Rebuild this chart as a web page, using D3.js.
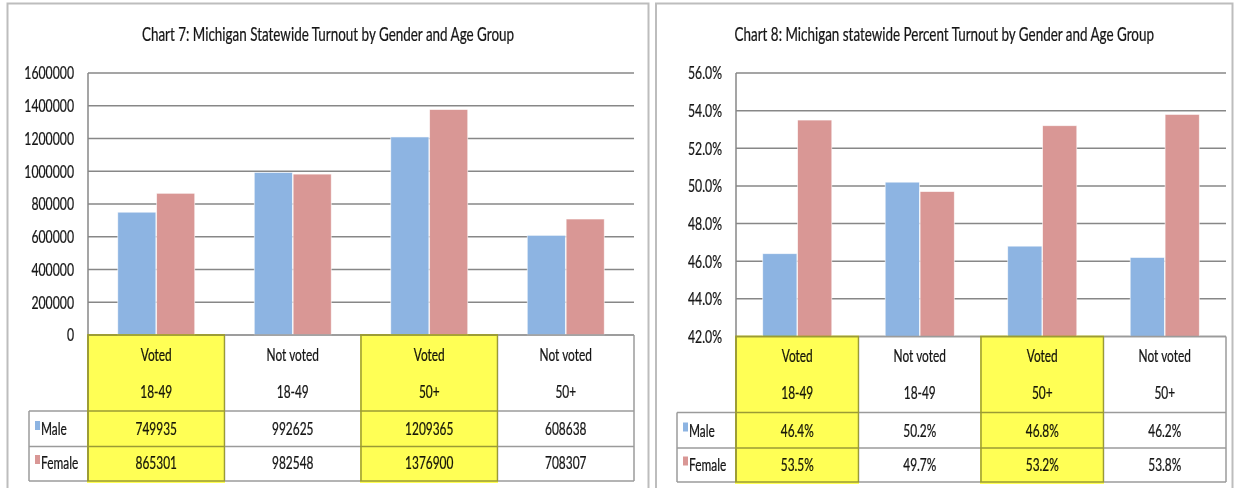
<!DOCTYPE html>
<html><head><meta charset="utf-8">
<script src="https://cdn.jsdelivr.net/npm/d3@7"></script>
<style>body{margin:0;background:#fff;} svg{display:block;}</style>
</head><body><svg id="c" width="1236" height="488"></svg>
<script>
// ---- data ----
const catLine1 = ["Voted", "Not voted", "Voted", "Not voted"];
const catLine2 = ["18-49", "18-49", "50+", "50+"];
const seriesNames = ["Male", "Female"];
const turnoutMale = [749935, 992625, 1209365, 608638];
const turnoutFemale = [865301, 982548, 1376900, 708307];
const pctMale = [46.4, 50.2, 46.8, 46.2];
const pctFemale = [53.5, 49.7, 53.2, 53.8];
const ticks7 = [0, 200000, 400000, 600000, 800000, 1000000, 1200000, 1400000, 1600000];
const ticks8 = [42, 44, 46, 48, 50, 52, 54, 56];
const highlighted = [0, 2];
const title7 = "Chart 7: Michigan Statewide Turnout by Gender and Age Group";
const title8 = "Chart 8: Michigan statewide Percent Turnout by Gender and Age Group";

const colors = { Male: "#8DB4E2", Female: "#D99795" };
const FONT = "Lato, 'Open Sans', sans-serif";
const SX = 0.70;
const svg = d3.select("#c");

function txt(parent, x, y, s, size, anchor) {
  const g = parent.append("g").attr("transform", `translate(${x},${y}) scale(${SX},1)`);
  g.append("text").attr("text-anchor", anchor).attr("font-size", size)
    .attr("font-family", FONT).attr("fill", "#161616")
    .attr("stroke", "#161616").attr("stroke-width", 0.25).text(s);
  return g;
}

function drawChart(cfg) {
  const g = svg.append("g");
  // panel border
  g.append("rect").attr("x", cfg.panel[0]).attr("y", cfg.panel[1])
    .attr("width", cfg.panel[2] - cfg.panel[0]).attr("height", 520)
    .attr("fill", "none").attr("stroke", "#bdbdbd").attr("stroke-width", 2);

  // title
  txt(g, (cfg.panel[0] + cfg.panel[2]) / 2, 40.5, cfg.title, 19.2, "middle");

  const y = d3.scaleLinear().domain(cfg.domain).range([cfg.bottom, cfg.top]);
  const x0 = d3.scaleBand().domain(d3.range(catLine1.length)).range([cfg.left, cfg.right]).padding(0);
  const bw = x0.bandwidth();
  const groupW = bw * 0.564;
  const x1 = d3.scaleBand().domain(seriesNames).range([0, groupW]).paddingInner(0.02);
  const off = (bw - groupW) / 2;

  // gridlines
  g.append("g").selectAll("line").data(cfg.ticks).join("line")
    .attr("x1", cfg.left).attr("x2", cfg.right)
    .attr("y1", d => y(d)).attr("y2", d => y(d))
    .attr("stroke", "#878787").attr("stroke-width", 1.5);

  // tick labels
  cfg.ticks.forEach(t => txt(g, cfg.left - 14, y(t) + 6.3, cfg.tickFmt(t), 17.5, "end"));

  // bars
  const series = [cfg.male, cfg.female];
  const bars = g.append("g");
  seriesNames.forEach((s, si) => {
    bars.selectAll(null).data(series[si]).join("rect")
      .attr("x", (d, i) => x0(i) + off + x1(s))
      .attr("y", d => y(d))
      .attr("width", x1.bandwidth())
      .attr("height", d => cfg.bottom - y(d))
      .attr("fill", colors[s])
      .attr("stroke", "rgba(255,255,255,0.7)").attr("stroke-width", 0.8);
  });

  // table lines
  const lines = g.append("g").attr("stroke", "#9b9b9b").attr("stroke-width", 1.5);
  lines.append("line").attr("x1", cfg.left).attr("x2", cfg.left).attr("y1", cfg.top).attr("y2", cfg.rows[2]).attr("stroke", "#878787");
  lines.append("line").attr("x1", cfg.left).attr("x2", cfg.right).attr("y1", cfg.bottom).attr("y2", cfg.bottom);
  cfg.rows.forEach(r => lines.append("line").attr("x1", cfg.legendLeft).attr("x2", cfg.right).attr("y1", r).attr("y2", r));
  d3.range(catLine1.length + 1).forEach(i => {
    const xx = cfg.left + i * bw;
    lines.append("line").attr("x1", xx).attr("x2", xx).attr("y1", cfg.bottom).attr("y2", cfg.rows[2]);
  });
  lines.append("line").attr("x1", cfg.legendLeft).attr("x2", cfg.legendLeft).attr("y1", cfg.rows[0]).attr("y2", cfg.rows[2]);

  // header / value text
  catLine1.forEach((c, i) => {
    const cx = x0(i) + bw / 2;
    txt(g, cx, cfg.hdr[0], c, 17, "middle");
    txt(g, cx, cfg.hdr[1], catLine2[i], 17, "middle");
    txt(g, cx, cfg.val[0], cfg.valFmt(cfg.male[i]), 17, "middle");
    txt(g, cx, cfg.val[1], cfg.valFmt(cfg.female[i]), 17, "middle");
  });
  // legend
  seriesNames.forEach((s, si) => {
    g.append("rect").attr("x", cfg.legendLeft + 6).attr("y", cfg.val[si] - 14)
      .attr("width", 5).attr("height", 9).attr("fill", colors[s]);
    txt(g, cfg.legendLeft + 12, cfg.val[si], s, 17, "start");
  });

  // highlight
  highlighted.forEach(i => {
    g.append("rect").attr("x", x0(i) - 1).attr("y", cfg.bottom - 1)
      .attr("width", bw + 1.5).attr("height", cfg.rows[2] - cfg.bottom + 3)
      .attr("fill", "#FFFF55").style("mix-blend-mode", "multiply");
  });
}

drawChart({
  panel: [7.5, 3.5, 648.5], title: title7,
  left: 88, right: 634, top: 73, bottom: 335, domain: [0, 1600000],
  ticks: ticks7, tickFmt: d3.format("d"),
  male: turnoutMale, female: turnoutFemale, valFmt: d3.format("d"),
  rows: [411, 446.5, 481], legendLeft: 29,
  hdr: [361, 398], val: [435, 469]
});
drawChart({
  panel: [656, 3.5, 1232.5], title: title8,
  left: 736, right: 1226, top: 73, bottom: 336.5, domain: [42, 56],
  ticks: ticks8, tickFmt: d => d.toFixed(1) + "%",
  male: pctMale, female: pctFemale, valFmt: d => d.toFixed(1) + "%",
  rows: [412.5, 448, 482], legendLeft: 677,
  hdr: [362, 399], val: [436.5, 470.5]
});
</script></body></html>
